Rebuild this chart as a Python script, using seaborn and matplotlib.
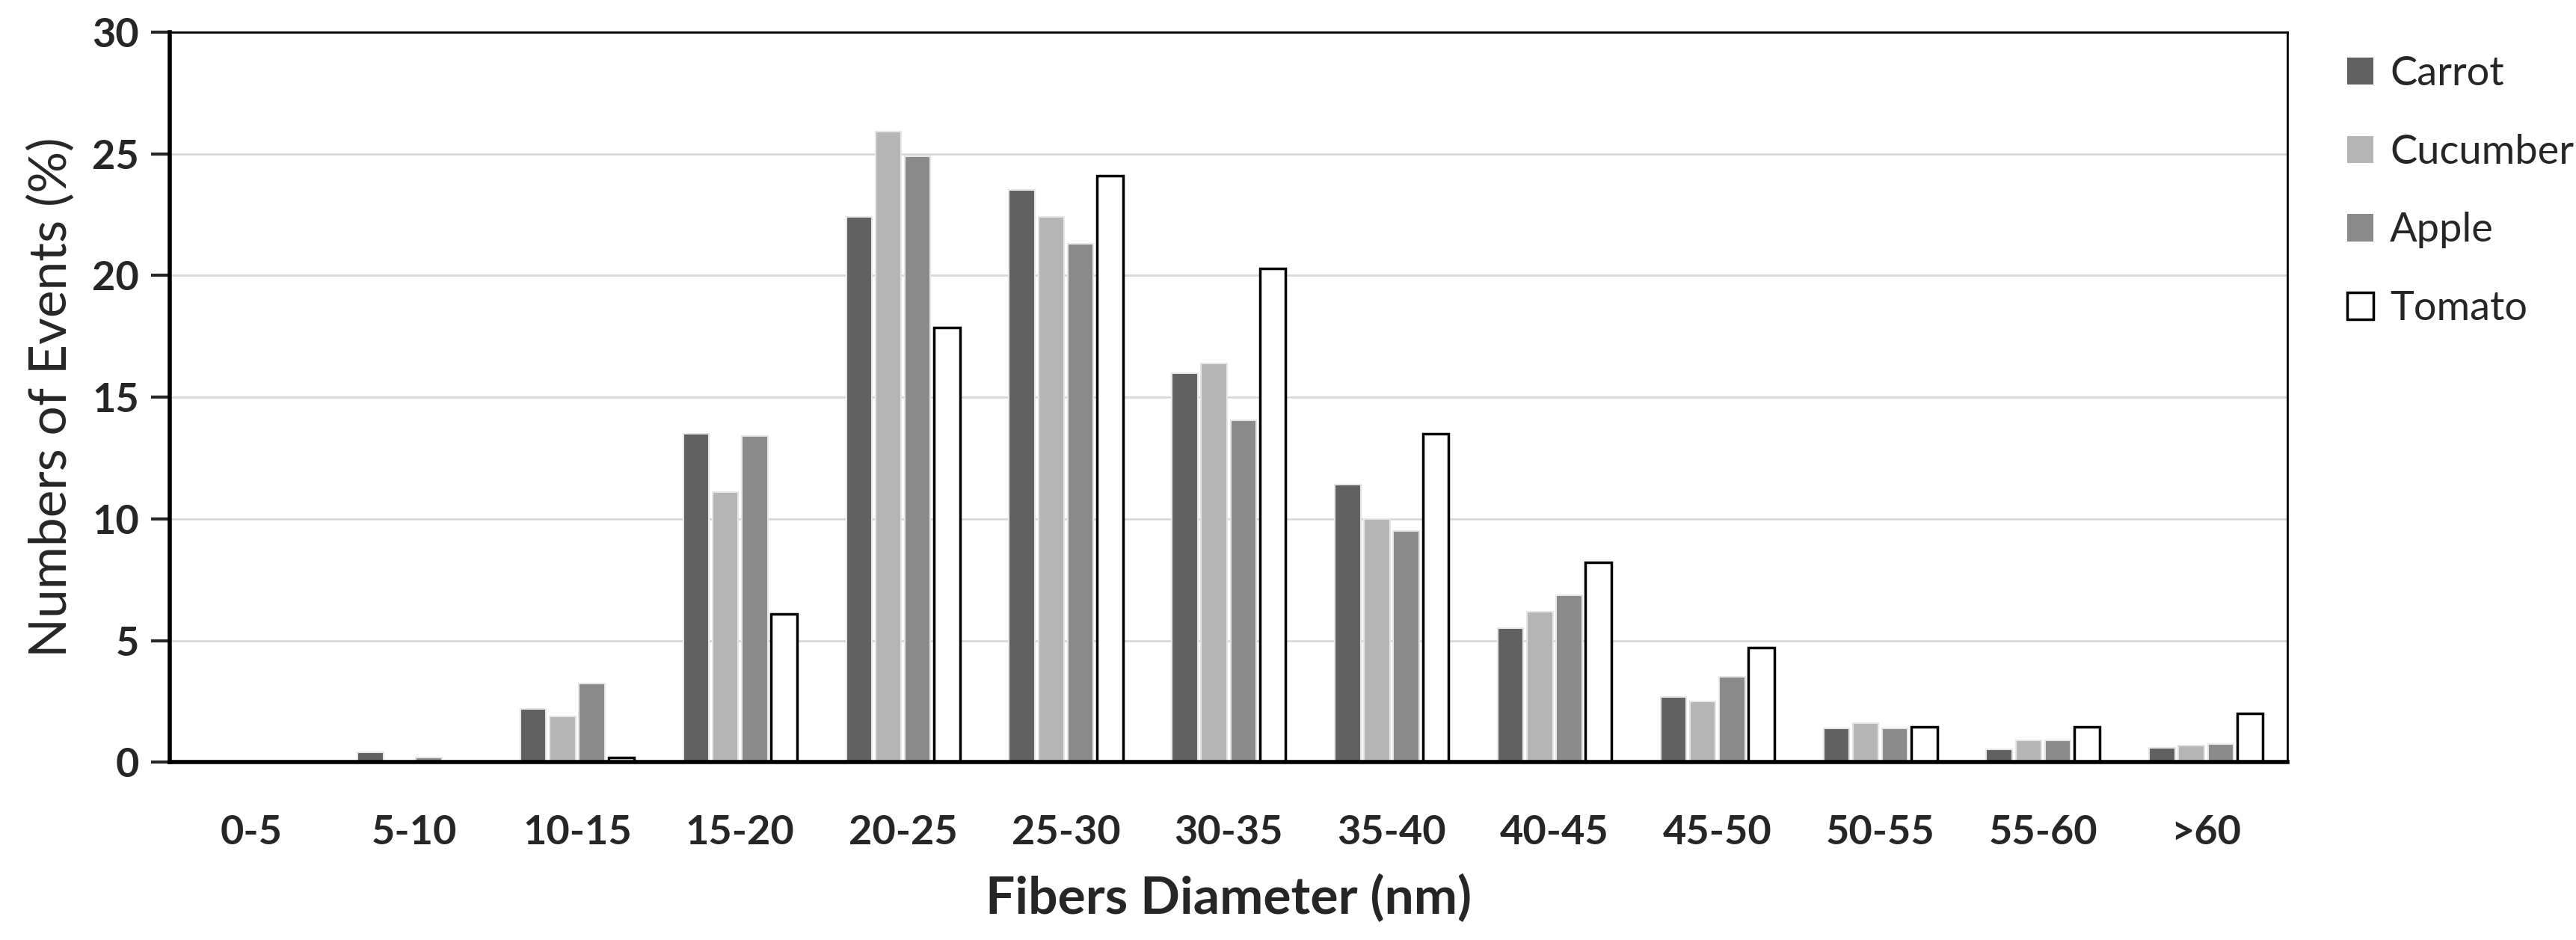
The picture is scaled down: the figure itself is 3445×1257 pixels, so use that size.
import pandas as pd
import matplotlib.pyplot as plt
import seaborn as sns
from matplotlib.patches import Patch

# Data
bins = ['0-5', '5-10', '10-15', '15-20', '20-25', '25-30', '30-35',
        '35-40', '40-45', '45-50', '50-55', '55-60', '>60']
carrot = [0, 0.4, 2.2, 13.5, 22.4, 23.5, 16.0, 11.4, 5.5, 2.7, 1.4, 0.55, 0.6]
cucumber = [0, 0, 1.9, 11.1, 25.9, 22.4, 16.4, 10.0, 6.2, 2.5, 1.6, 0.9, 0.7]
apple = [0, 0.2, 3.25, 13.4, 24.9, 21.3, 14.05, 9.5, 6.85, 3.5, 1.4, 0.9, 0.75]
tomato = [0, 0, 0.2, 6.1, 17.85, 24.1, 20.3, 13.5, 8.2, 4.7, 1.45, 1.45, 2.0]
samples = ['Carrot', 'Cucumber', 'Apple', 'Tomato']
colors = ['#616161', '#b5b5b5', '#8a8a8a', '#ffffff']

df = pd.DataFrame({'bin': bins, 'Carrot': carrot, 'Cucumber': cucumber,
                   'Apple': apple, 'Tomato': tomato})
long = df.melt(id_vars='bin', var_name='sample', value_name='pct')

sns.set_style('white')
plt.rcParams['font.family'] = ['Lato', 'DejaVu Sans']

fig, ax = plt.subplots(figsize=(34.45, 12.57), dpi=100)
fig.subplots_adjust(left=0.066, right=0.888, top=0.966, bottom=0.189)

sns.barplot(data=long, x='bin', y='pct', hue='sample', hue_order=samples,
            palette=colors, width=0.72, gap=0.12, ax=ax, legend=False,
            edgecolor='#e6e6e6', linewidth=1.5)

# Tomato bars are white with black outline
for bar in ax.containers[3]:
    bar.set_edgecolor('black')
    bar.set_linewidth(2.5)

ax.set_ylim(0, 30)
ax.set_yticks(range(0, 31, 5))
ax.yaxis.grid(True, color='#d9d9d9', linewidth=2)
ax.set_axisbelow(True)

for side in ['top', 'right']:
    ax.spines[side].set_linewidth(2)
    ax.spines[side].set_color('black')
ax.spines['left'].set_linewidth(4)
ax.spines['bottom'].set_linewidth(4)
ax.spines['left'].set_color('black')
ax.spines['bottom'].set_color('black')

ax.tick_params(axis='y', length=18, width=3, direction='out', pad=12, left=True,
               labelsize=39)
ax.tick_params(axis='x', length=0, pad=50, labelsize=39)
for lbl in ax.get_xticklabels() + ax.get_yticklabels():
    lbl.set_fontweight('bold')

ax.set_ylabel('Numbers of Events (%)', fontsize=50, labelpad=16)
ax.set_xlabel('Fibers Diameter (nm)', fontsize=50, fontweight='bold', labelpad=22)

handles = [Patch(facecolor=c, edgecolor='black' if s == 'Tomato' else c,
                 linewidth=2.5 if s == 'Tomato' else 0)
           for s, c in zip(samples, colors)]
ax.legend(handles, samples, loc='upper left', bbox_to_anchor=(1.011, 1.018),
          frameon=False, fontsize=39, handlelength=0.65, handleheight=0.65,
          handletextpad=0.4, labelspacing=1.03)

plt.savefig('out.png', dpi=100)
